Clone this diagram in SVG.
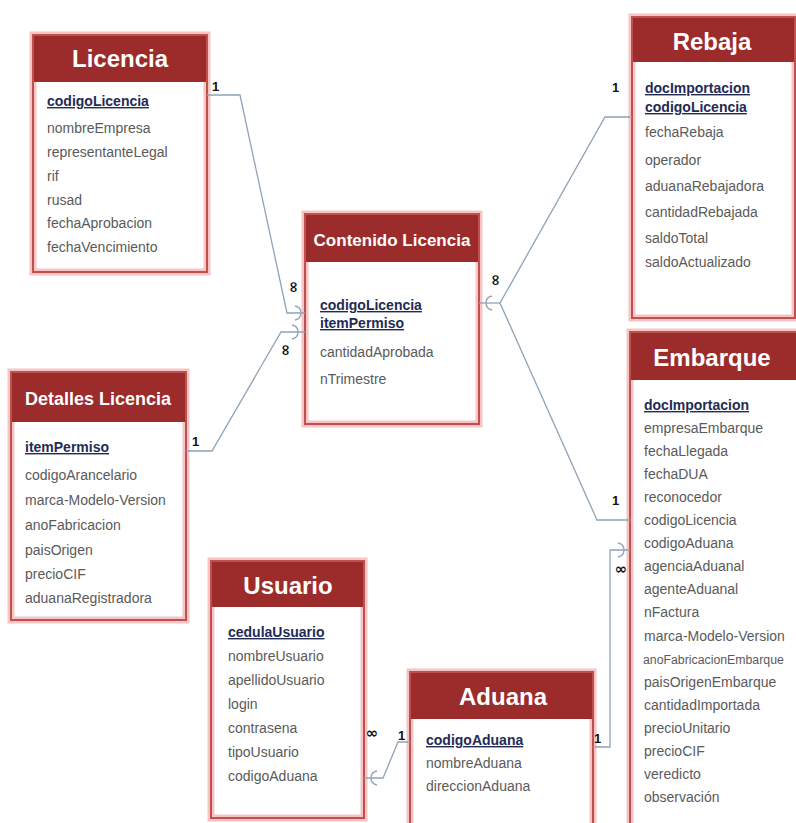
<svg xmlns="http://www.w3.org/2000/svg" width="796" height="823" viewBox="0 0 796 823">
<style>
.glow{fill:#ffffff;stroke:#f5c4c4;stroke-width:7}
.box{fill:none;stroke:#c0504d;stroke-width:2}
.hdr{fill:#9c2b2b}
.ttl{font-family:"Liberation Sans",Arial,sans-serif;font-weight:bold;fill:#ffffff;text-anchor:middle}
.f{font-family:"Liberation Sans",Arial,sans-serif;font-size:14px;fill:#5a5a5a}
.k{font-family:"Liberation Sans",Arial,sans-serif;font-size:14px;font-weight:bold;fill:#1f2b55;text-decoration:underline}
.c{fill:none;stroke:#8fa3b8;stroke-width:1.3}
.lb{font-family:"Liberation Sans",Arial,sans-serif;font-size:13px;font-weight:bold;fill:#111111}
.inf{font-family:"DejaVu Sans",sans-serif;font-size:15px;font-weight:bold;fill:#111111}
</style>
<rect width="796" height="823" fill="#ffffff"/>
<g id="licencia">
<rect class="glow" x="33" y="35" width="174" height="237"/>
<rect class="hdr" x="33" y="35" width="174" height="47"/>
<rect class="box" x="33" y="35" width="174" height="237"/>
<text class="ttl" x="120" y="67" font-size="24">Licencia</text>
<text class="k" x="47" y="106">codigoLicencia</text>
<text class="f" x="47" y="133">nombreEmpresa</text>
<text class="f" x="47" y="157">representanteLegal</text>
<text class="f" x="47" y="181">rif</text>
<text class="f" x="47" y="205">rusad</text>
<text class="f" x="47" y="228">fechaAprobacion</text>
<text class="f" x="47" y="252">fechaVencimiento</text>
</g>
<g id="rebaja">
<rect class="glow" x="632" y="17" width="163" height="301"/>
<rect class="hdr" x="632" y="17" width="163" height="45"/>
<rect class="box" x="632" y="17" width="163" height="301"/>
<text class="ttl" x="712" y="50" font-size="24">Rebaja</text>
<text class="k" x="645" y="93">docImportacion</text>
<text class="k" x="645" y="112">codigoLicencia</text>
<text class="f" x="645" y="137">fechaRebaja</text>
<text class="f" x="645" y="165">operador</text>
<text class="f" x="645" y="191">aduanaRebajadora</text>
<text class="f" x="645" y="217">cantidadRebajada</text>
<text class="f" x="645" y="243">saldoTotal</text>
<text class="f" x="645" y="267">saldoActualizado</text>
</g>
<g id="contenido-licencia">
<rect class="glow" x="305" y="214" width="174" height="210"/>
<rect class="hdr" x="305" y="214" width="174" height="48"/>
<rect class="box" x="305" y="214" width="174" height="210"/>
<text class="ttl" x="392" y="246" font-size="17">Contenido Licencia</text>
<text class="k" x="320" y="310">codigoLicencia</text>
<text class="k" x="320" y="328">itemPermiso</text>
<text class="f" x="320" y="357">cantidadAprobada</text>
<text class="f" x="320" y="384">nTrimestre</text>
</g>
<g id="detalles-licencia">
<rect class="glow" x="11" y="372" width="175" height="248"/>
<rect class="hdr" x="11" y="372" width="175" height="50"/>
<rect class="box" x="11" y="372" width="175" height="248"/>
<text class="ttl" x="98" y="405" font-size="18">Detalles Licencia</text>
<text class="k" x="25" y="452">itemPermiso</text>
<text class="f" x="25" y="480">codigoArancelario</text>
<text class="f" x="25" y="505">marca-Modelo-Version</text>
<text class="f" x="25" y="530">anoFabricacion</text>
<text class="f" x="25" y="555">paisOrigen</text>
<text class="f" x="25" y="579">precioCIF</text>
<text class="f" x="25" y="603">aduanaRegistradora</text>
</g>
<g id="embarque">
<rect class="glow" x="630" y="332" width="180" height="500"/>
<rect class="hdr" x="630" y="332" width="180" height="48"/>
<rect class="box" x="630" y="332" width="180" height="500"/>
<text class="ttl" x="712" y="366" font-size="24">Embarque</text>
<text class="k" x="644" y="410">docImportacion</text>
<text class="f" x="644" y="433">empresaEmbarque</text>
<text class="f" x="644" y="456">fechaLlegada</text>
<text class="f" x="644" y="479">fechaDUA</text>
<text class="f" x="644" y="502">reconocedor</text>
<text class="f" x="644" y="525">codigoLicencia</text>
<text class="f" x="644" y="548">codigoAduana</text>
<text class="f" x="644" y="571">agenciaAduanal</text>
<text class="f" x="644" y="594">agenteAduanal</text>
<text class="f" x="644" y="617">nFactura</text>
<text class="f" x="644" y="641">marca-Modelo-Version</text>
<text class="f" x="643" y="664" style="font-size:12.3px">anoFabricacionEmbarque</text>
<text class="f" x="644" y="687">paisOrigenEmbarque</text>
<text class="f" x="644" y="710">cantidadImportada</text>
<text class="f" x="644" y="733">precioUnitario</text>
<text class="f" x="644" y="756">precioCIF</text>
<text class="f" x="644" y="779">veredicto</text>
<text class="f" x="644" y="802">observación</text>
</g>
<g id="usuario">
<rect class="glow" x="211" y="561" width="153" height="257"/>
<rect class="hdr" x="211" y="561" width="153" height="46"/>
<rect class="box" x="211" y="561" width="153" height="257"/>
<text class="ttl" x="288" y="594" font-size="24">Usuario</text>
<text class="k" x="228" y="637">cedulaUsuario</text>
<text class="f" x="228" y="661">nombreUsuario</text>
<text class="f" x="228" y="685">apellidoUsuario</text>
<text class="f" x="228" y="709">login</text>
<text class="f" x="228" y="733">contrasena</text>
<text class="f" x="228" y="757">tipoUsuario</text>
<text class="f" x="228" y="781">codigoAduana</text>
</g>
<g id="aduana">
<rect class="glow" x="410" y="672" width="183" height="160"/>
<rect class="hdr" x="410" y="672" width="183" height="47"/>
<rect class="box" x="410" y="672" width="183" height="160"/>
<text class="ttl" x="503" y="705" font-size="24">Aduana</text>
<text class="k" x="426" y="745">codigoAduana</text>
<text class="f" x="426" y="768">nombreAduana</text>
<text class="f" x="426" y="791">direccionAduana</text>
</g>
<g id="connectors">
<path class="c" d="M207,95 H240 L287,313 H305"/>
<path class="c" d="M186,451 H212 L281,332 H305"/>
<path class="c" d="M632,117 H605 L500,303 L597,520 H630"/>
<path class="c" d="M479,303 H500"/>
<path class="c" d="M630,550 H610 V747 H593"/>
<path class="c" d="M410,742 H398 L383,778 H364"/>
<path class="c" d="M295,306 q6,1 6,7 M295,320 q6,-1 6,-7"/>
<path class="c" d="M292,325 q6,1 6,7 M292,339 q6,-1 6,-7"/>
<path class="c" d="M492,296 q-6,1 -6,7 M492,310 q-6,-1 -6,-7"/>
<path class="c" d="M618,543 q6,1 6,7 M618,557 q6,-1 6,-7"/>
<path class="c" d="M377,771 q-6,1 -6,7 M377,785 q-6,-1 -6,-7"/>
<text class="lb" x="212" y="91">1</text>
<text class="lb" x="192" y="446">1</text>
<text class="lb" x="612" y="92">1</text>
<text class="lb" x="612" y="505">1</text>
<text class="lb" x="594" y="743">1</text>
<text class="lb" x="398" y="740">1</text>
<text class="inf" transform="translate(298,287) rotate(-90)" text-anchor="middle">∞</text>
<text class="inf" transform="translate(290,350) rotate(-90)" text-anchor="middle">∞</text>
<text class="inf" transform="translate(500,280) rotate(-90)" text-anchor="middle">∞</text>
<text class="inf" x="621" y="574" text-anchor="middle">∞</text>
<text class="inf" x="372" y="738" text-anchor="middle">∞</text>
</g>
</svg>
